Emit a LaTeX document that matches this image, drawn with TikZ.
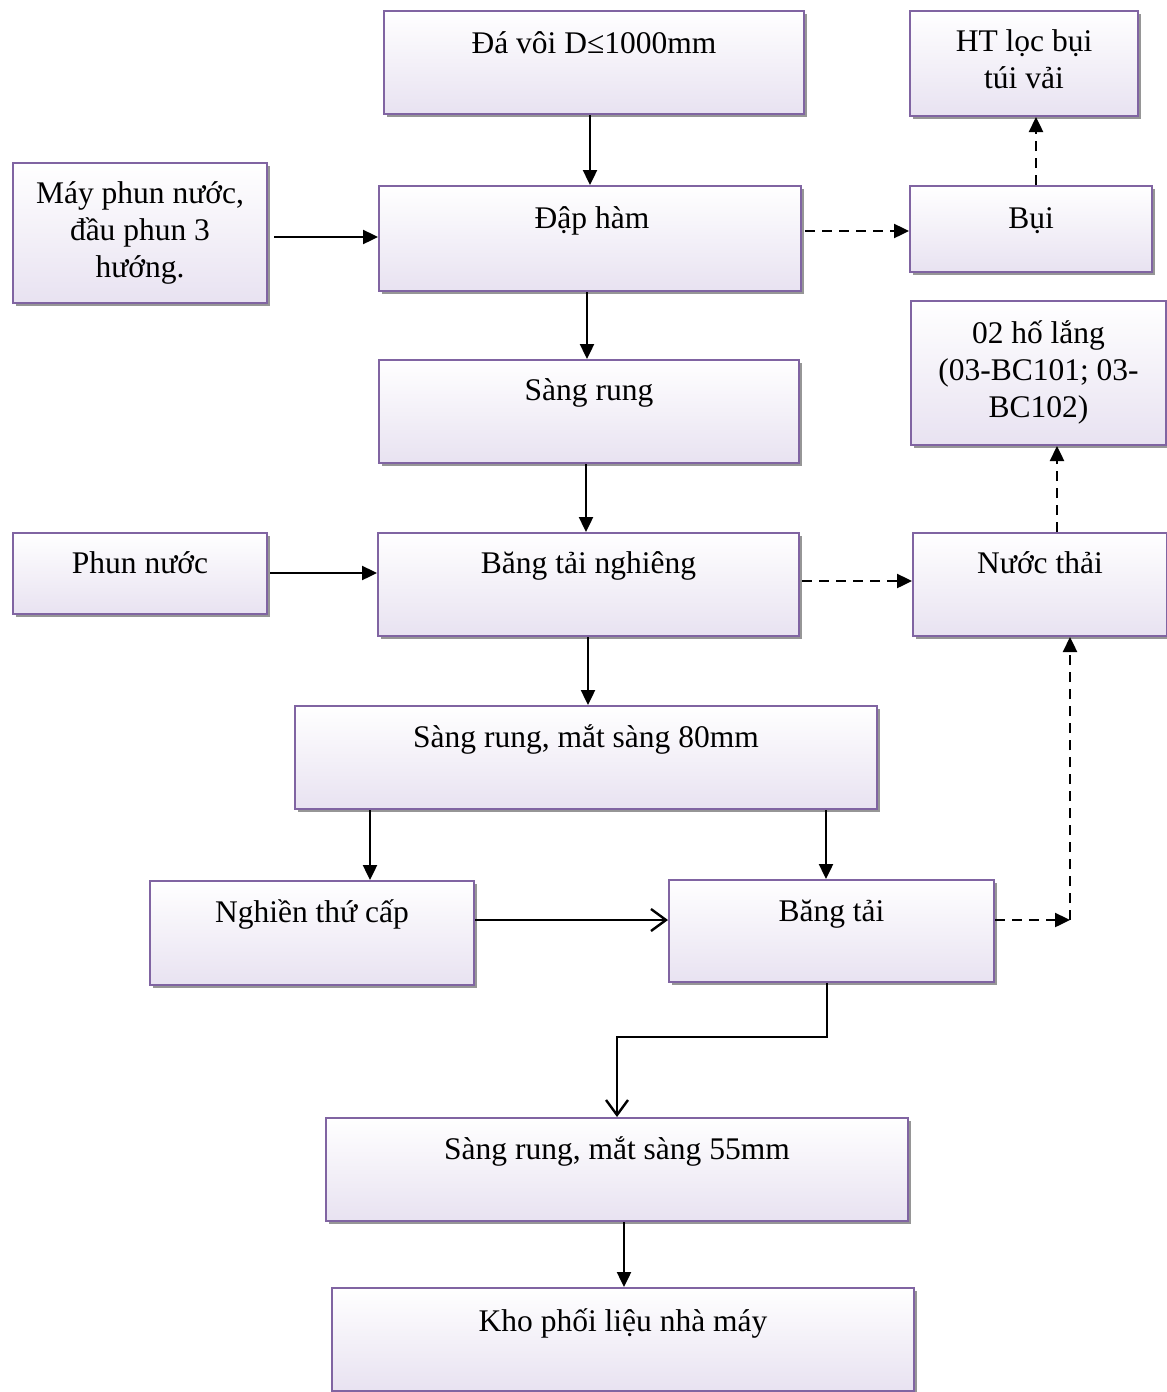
\documentclass[tikz,border=0pt]{standalone}
\usepackage{fontspec}
\setmainfont{Liberation Serif}
\usetikzlibrary{arrows.meta,shadows,calc}
\definecolor{boxline}{RGB}{128,100,162}
\definecolor{boxbot}{RGB}{232,226,241}
\definecolor{shadowgray}{RGB}{150,150,150}
\begin{document}
\begin{tikzpicture}[x=1pt,y=-1pt,
  box/.style={draw=boxline,line width=2pt,top color=white,bottom color=boxbot,
    rectangle,anchor=north west,inner sep=0pt,
    drop shadow={shadow xshift=3pt,shadow yshift=-3pt,fill=shadowgray,opacity=1}},
  txt/.style={anchor=base,inner sep=0pt,align=center,
    font=\fontsize{31.5}{37}\selectfont},
  arr/.style={line width=2.4pt,-{Triangle[length=15pt,width=14pt]}},
  darr/.style={arr,dash pattern=on 10pt off 7pt},
  barb/.style={line width=2.4pt,-{Straight Barb[length=15pt,width=22pt,line width=2.4pt]}}]
\useasboundingbox (0,0) rectangle (1167,1392);
% boxes
\node[box,minimum width=420pt,minimum height=103pt] (b1) at (383,10) {};
\node[box,minimum width=228pt,minimum height=105pt] (b2) at (909,10) {};
\node[box,minimum width=254pt,minimum height=140pt] (b3) at (12,162) {};
\node[box,minimum width=422pt,minimum height=105pt] (b4) at (378,185) {};
\node[box,minimum width=242pt,minimum height=86pt] (b5) at (909,185) {};
\node[box,minimum width=255pt,minimum height=144pt] (b6) at (910,300) {};
\node[box,minimum width=420pt,minimum height=103pt] (b7) at (378,359) {};
\node[box,minimum width=254pt,minimum height=81pt] (b8) at (12,532) {};
\node[box,minimum width=421pt,minimum height=103pt] (b9) at (377,532) {};
\node[box,minimum width=254pt,minimum height=103pt] (b10) at (912,532) {};
\node[box,minimum width=582pt,minimum height=103pt] (b11) at (294,705) {};
\node[box,minimum width=324pt,minimum height=104pt] (b12) at (149,880) {};
\node[box,minimum width=325pt,minimum height=102pt] (b13) at (668,879) {};
\node[box,minimum width=582pt,minimum height=103pt] (b14) at (325,1117) {};
\node[box,minimum width=582pt,minimum height=103pt] (b15) at (331,1287) {};
% texts (anchor = baseline of last line)
\node[txt] (t1) at ($(b1.north)+(0,43)$) {Đá vôi D≤1000mm};
\node[txt] (t2) at ($(b2.north)+(0,78)$) {HT lọc bụi\\túi vải};
\node[txt] (t3) at ($(b3.north)+(0,115)$) {Máy phun nước,\\đầu phun 3\\hướng.};
\node[txt] (t4) at ($(b4.north)+(2,43)$) {Đập hàm};
\node[txt] (t5) at ($(b5.north)+(0,43)$) {Bụi};
\node[txt] (t6) at ($(b6.north)+(0,117)$) {02 hố lắng\\(03-BC101; 03-\\BC102)};
\node[txt] (t7) at ($(b7.north)+(0,41)$) {Sàng rung};
\node[txt] (t8) at ($(b8.north)+(0,41)$) {Phun nước};
\node[txt] (t9) at ($(b9.north)+(0,41)$) {Băng tải nghiêng};
\node[txt] (t10) at ($(b10.north)+(0,41)$) {Nước thải};
\node[txt] (t11) at ($(b11.north)+(0,42)$) {Sàng rung, mắt sàng 80mm};
\node[txt] (t12) at ($(b12.north)+(0,42)$) {Nghiền thứ cấp};
\node[txt] (t13) at ($(b13.north)+(0,42)$) {Băng tải};
\node[txt] (t14) at ($(b14.north)+(0,42)$) {Sàng rung, mắt sàng 55mm};
\node[txt] (t15) at ($(b15.north)+(0,44)$) {Kho phối liệu nhà máy};
% connectors
\draw[arr] (b1.south -| 590,0) -- (b4.north -| 590,0);
\draw[arr] ($(b3.east |- 0,237)+(6,0)$) -- (b4.west |- 0,237);
\draw[darr] ($(b4.east |- 0,231)+(3,0)$) -- (b5.west |- 0,231);
\draw[darr] (b5.north -| 1036,0) -- (b2.south -| 1036,0);
\draw[arr] (b4.south -| 587,0) -- (b7.north -| 587,0);
\draw[arr] (b7.south -| 586,0) -- (b9.north -| 586,0);
\draw[arr] ($(b8.east |- 0,573)+(2,0)$) -- (b9.west |- 0,573);
\draw[darr] ($(b9.east |- 0,581)+(2,0)$) -- (b10.west |- 0,581);
\draw[darr] (b10.north -| 1057,0) -- (b6.south -| 1057,0);
\draw[arr] (b9.south -| 588,0) -- (b11.north -| 588,0);
\draw[arr] (b11.south -| 370,0) -- (b12.north -| 370,0);
\draw[arr] (b11.south -| 826,0) -- (b13.north -| 826,0);
\draw[barb] (b12.east |- 0,920) -- (b13.west |- 0,920);
\coordinate (c1) at (1070,920);
\draw[darr] (b13.east |- 0,920) -- (c1);
\draw[darr] (c1) -- (b10.south -| c1);
\draw[barb] (b13.south -| 827,0) -- (827,1037) -- (617,1037) -- (b14.north -| 617,0);
\draw[arr] (b14.south -| 624,0) -- (b15.north -| 624,0);
\end{tikzpicture}
\end{document}
